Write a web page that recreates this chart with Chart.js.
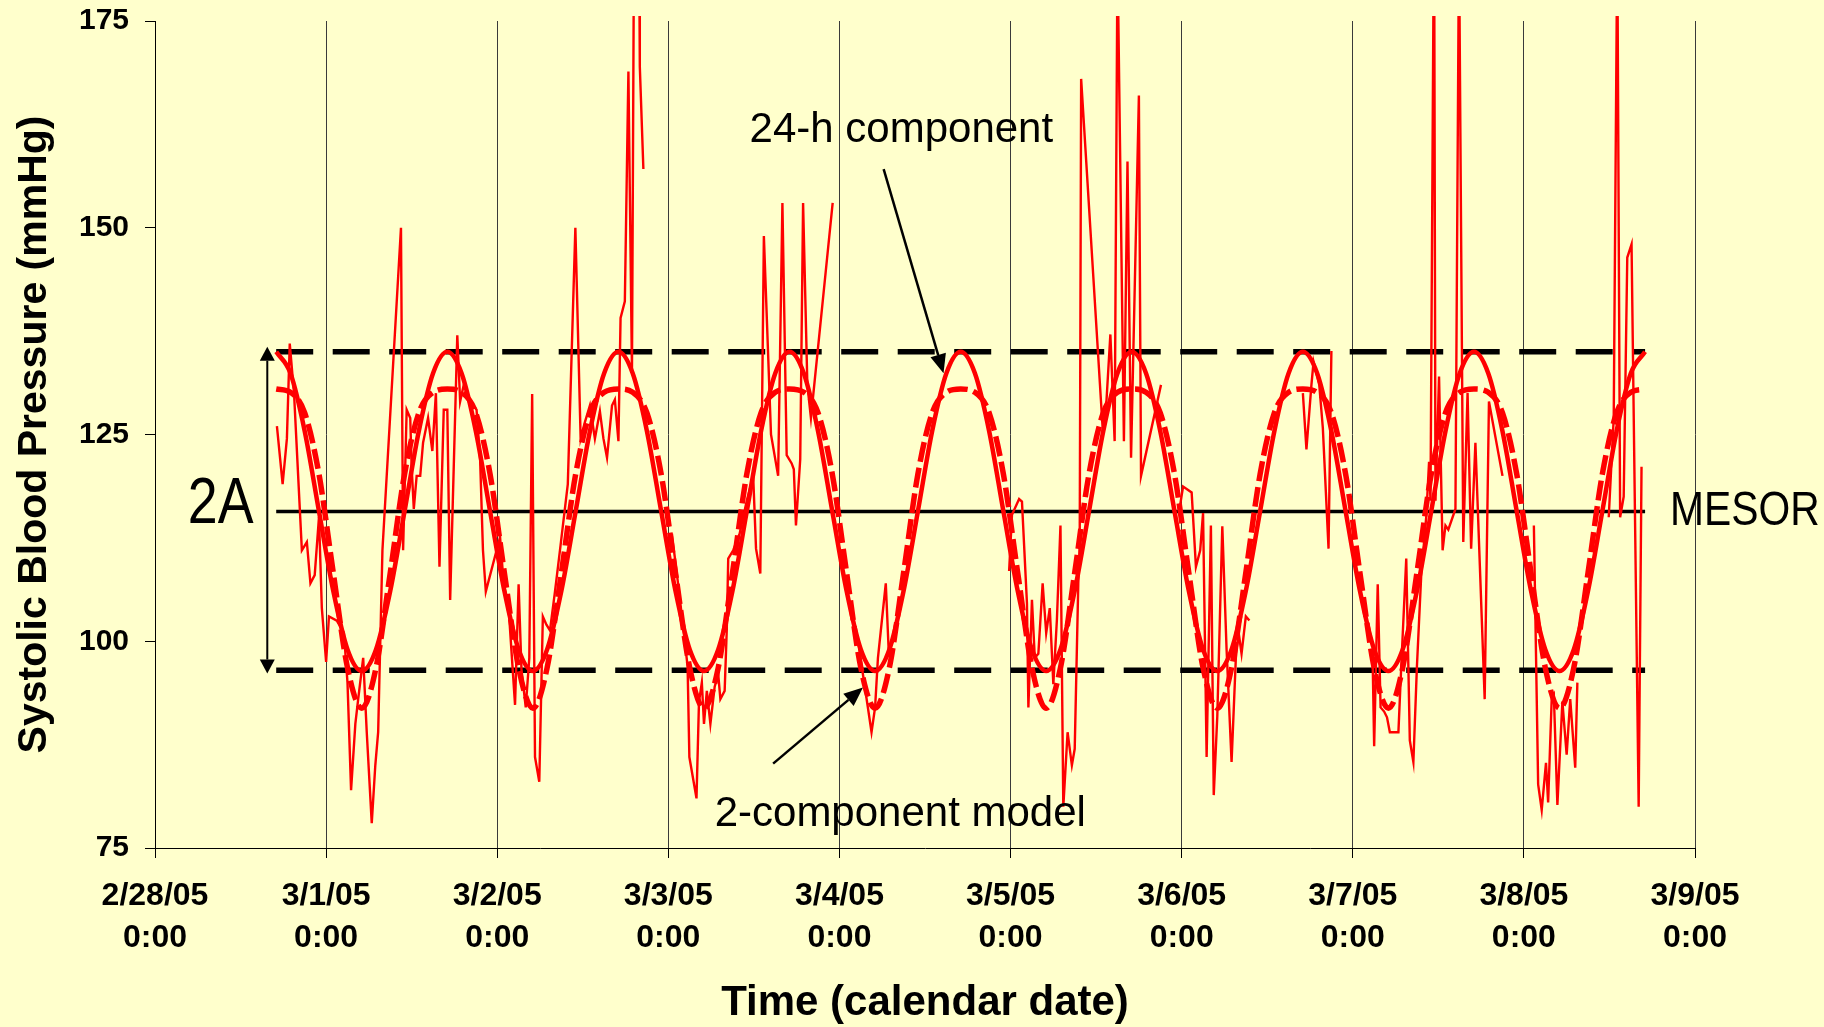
<!DOCTYPE html>
<html>
<head>
<meta charset="utf-8">
<title>Systolic blood pressure, 24-h and 2-component models</title>
<script src="https://cdn.jsdelivr.net/npm/chart.js@4.4.1/dist/chart.umd.min.js"></script>
<style>
  html, body { margin: 0; padding: 0; background: #FFFFCC; }
  canvas { display: block; background: #FFFFCC; }
</style>
</head>
<body>
<canvas id="bpChart" width="1824" height="1027"></canvas>
<script>
// axis labels (hours counted from 2/28/05 0:00)
const dayLabels = ['2/28/05', '3/1/05', '3/2/05', '3/3/05', '3/4/05', '3/5/05', '3/6/05', '3/7/05', '3/8/05', '3/9/05'];
const timeLabels = ['0:00', '0:00', '0:00', '0:00', '0:00', '0:00', '0:00', '0:00', '0:00', '0:00'];

// raw readings, null = break in the record
const rawHours = [
  17.1, 17.9, 18.5, 18.9, 19.5, 20.6, 21.3, 21.8, 22.4, 23.0, 23.4, 24.0, 24.4, 25.5, 26.5, 27.0, 27.5, 28.1, 28.5, 29.2,
  29.7, 30.4, 30.9, 31.3, 31.9, 34.5, 34.8, 35.3, 35.8, 36.0, 36.3, 36.7, 37.2, 37.6, 38.3, 38.9, 39.4, 39.9, 40.5, 41.0,
  41.4, 42.4, 42.8, 43.3, 44.2, 45.1, 45.6, 46.0, 46.4, 48.4, 48.9, 49.6, 50.5, 51.0, 51.4, 52.0, 52.5, 52.9, 53.3, 53.9,
  54.4, 54.9, 55.4, 56.1, 56.8, 57.9, 58.96, 59.7, 60.3, 61.0, 61.7, 62.4, 62.9, 63.4, 64.1, 64.5, 65.0, 65.3, 65.9, 66.4,
  66.9, 67.2, 67.9, 68.0, 68.5, 70,
  72.5, 73.5, 74.7, 74.95, 75.95, 76.3, 76.7, 77.0, 77.4, 77.9, 78.5, 79.0, 79.3, 79.9, 80.2, 80.4, 81.1, 82.0, 83.0, 83.9,
  84.3, 84.9, 85.4, 86.4, 87.4, 88.0, 88.6, 89.3, 89.6, 89.9, 90.5, 90.9, 91.5, 92.0, 95.05, 96.8,
  98.6, 99.9, 100.5, 101.0, 101.4, 102.5, 102.9, 103.5, 110,
  119.8, 120.2, 121.2, 121.6, 122.3, 122.5, 123.0, 123.4, 123.9, 124.5, 125.0, 125.5, 126.0, 126.5, 127.0, 127.4, 128.0, 128.6, 129.0, 129.5,
  129.7, 129.9, 132.9, 133.4, 134.0, 134.6, 135.0, 135.9, 136.4, 136.9, 138.0, 138.3, 141.1, 142.4,
  143.7, 144.2, 145.4, 146.0, 146.6, 147.0, 147.5, 148.1, 148.5, 149.0, 149.7, 150.3, 151.0, 151.6, 152.0, 152.4, 153.0, 153.5, 157,
  161.0, 161.5, 162.2, 162.5, 163.3, 163.8, 164.6, 165.0, 168,
  170.8, 171.0, 171.5, 171.9, 172.4, 172.8, 173.2, 174.4, 174.8, 175.5, 176.0, 176.5, 177.0, 177.6, 178.3, 178.7, 178.9, 179.4, 179.6, 180.1,
  180.6, 181.0, 181.4, 182.4, 182.9, 183.5, 184.1, 184.6, 185.2, 186.5, 187.1, 189.0, 191,
  193.4, 194.0, 194.5, 195.1, 195.4, 195.9, 196.2, 196.7, 197.4, 198.0, 198.5, 199.2, 199.5, 201,
  203.9, 204.6, 205.1, 205.5, 206.0, 206.5, 207.1, 208.1, 208.5
];
const rawSbp = [
  126, 119, 124.5, 136, 130, 111, 112, 107, 108, 115, 104, 97.5, 103, 102.5, 101, 95, 82, 90, 93, 98,
  89, 78, 85, 89, 111, 150, 111, 128, 127, 121, 116, 120, 120, 124, 127, 123, 130, 109, 128, 128,
  105, 137, 129, 131, 129, 128, 122, 111, 106, 112.6, 107, 104, 92.3, 106.9, 96.6, 92, 98, 129.9, 86, 83,
  103, 102, 101.3, 106, 111, 119, 150, 124.5, 126.5, 128.5, 124.5, 127.8, 124.5, 122.2, 128.5, 129.2, 124.2, 139.1, 141.1, 168.9,
  132.5, 188, 185, 169.5, 157.1, null,
  113, 106, 97, 86, 81, 92.7, 95, 90, 94, 90, 94.5, 96, 93, 94, 101.5, 110, 111, 113, 117, 120,
  111.2, 108.2, 149, 125, 120, 153, 122.5, 121.5, 120.8, 114, 122, 153, 131, 127, 153, null,
  100, 92.5, 89, 92, 98, 107, 99, 100, null,
  108.5, 115.3, 117.2, 116.9, 104.6, 92, 105, 98, 98.5, 107, 101, 104, 94.8, 102.6, 114, 80, 89, 85, 87, 107,
  112, 168, 126, 128.3, 137.1, 124.2, 183, 124.2, 158, 122.2, 166, 120, 131, null,
  116, 118.7, 118, 109, 111, 115.5, 86, 114, 81.4, 91, 113.9, 99, 85.4, 98, 101, 98.5, 103, 102.5, null,
  130, 123.2, 131, 133.8, 131, 125.8, 111.2, 135.1, null,
  97, 87.3, 106.9, 92, 91.5, 90.8, 89, 89, 97, 110, 88, 85.4, 97, 108, 115, 121.7, 117, 190, 117, 132,
  111, 114, 113.5, 116, 185, 112, 130, 111.2, 124, 93, 129, 120, null,
  114, 82.7, 79.6, 85.3, 80.5, 93, 93.5, 80.2, 92.7, 86.3, 93, 84.7, 95, null,
  115, 127, 185, 115, 117.5, 146.4, 148, 80, 121.1
];

// fitted curves, read every 2 h from 2/28 17:00 to 3/8 17:00
const modelHours = [
  17, 19, 21, 23, 25, 27, 29, 31, 33, 35, 37, 39,
  41, 43, 45, 47, 49, 51, 53, 55, 57, 59, 61, 63,
  65, 67, 69, 71, 73, 75, 77, 79, 81, 83, 85, 87,
  89, 91, 93, 95, 97, 99, 101, 103, 105, 107, 109, 111,
  113, 115, 117, 119, 121, 123, 125, 127, 129, 131, 133, 135,
  137, 139, 141, 143, 145, 147, 149, 151, 153, 155, 157, 159,
  161, 163, 165, 167, 169, 171, 173, 175, 177, 179, 181, 183,
  185, 187, 189, 191, 193, 195, 197, 199, 201, 203, 205, 207,
  209
];
const cosinor24 = [
  135.0, 132.4, 125.4, 115.7, 106.1, 99.0, 96.4, 99.0, 106.1, 115.7, 125.4, 132.4,
  135.0, 132.4, 125.4, 115.7, 106.1, 99.0, 96.4, 99.0, 106.1, 115.7, 125.4, 132.4,
  135.0, 132.4, 125.4, 115.7, 106.1, 99.0, 96.4, 99.0, 106.1, 115.7, 125.4, 132.4,
  135.0, 132.4, 125.4, 115.7, 106.1, 99.0, 96.4, 99.0, 106.1, 115.7, 125.4, 132.4,
  135.0, 132.4, 125.4, 115.7, 106.1, 99.0, 96.4, 99.0, 106.1, 115.7, 125.4, 132.4,
  135.0, 132.4, 125.4, 115.7, 106.1, 99.0, 96.4, 99.0, 106.1, 115.7, 125.4, 132.4,
  135.0, 132.4, 125.4, 115.7, 106.1, 99.0, 96.4, 99.0, 106.1, 115.7, 125.4, 132.4,
  135.0, 132.4, 125.4, 115.7, 106.1, 99.0, 96.4, 99.0, 106.1, 115.7, 125.4, 132.4,
  135.0
];
const twoComponent = [
  130.5, 130.1, 127.6, 120.2, 108.3, 96.8, 91.9, 96.8, 108.3, 120.2, 127.6, 130.1,
  130.5, 130.1, 127.6, 120.2, 108.3, 96.8, 91.9, 96.8, 108.3, 120.2, 127.6, 130.1,
  130.5, 130.1, 127.6, 120.2, 108.3, 96.8, 91.9, 96.8, 108.3, 120.2, 127.6, 130.1,
  130.5, 130.1, 127.6, 120.2, 108.3, 96.8, 91.9, 96.8, 108.3, 120.2, 127.6, 130.1,
  130.5, 130.1, 127.6, 120.2, 108.3, 96.8, 91.9, 96.8, 108.3, 120.2, 127.6, 130.1,
  130.5, 130.1, 127.6, 120.2, 108.3, 96.8, 91.9, 96.8, 108.3, 120.2, 127.6, 130.1,
  130.5, 130.1, 127.6, 120.2, 108.3, 96.8, 91.9, 96.8, 108.3, 120.2, 127.6, 130.1,
  130.5, 130.1, 127.6, 120.2, 108.3, 96.8, 91.9, 96.8, 108.3, 120.2, 127.6, 130.1,
  130.5
];

// MESOR and MESOR +/- amplitude
const levelHours = [17, 209];
const upperLevel = 135;
const mesorLevel = 115.7;
const lowerLevel = 96.5;

const FONT = '"Liberation Sans", Arial, Helvetica, sans-serif';

function pairs(xs, ys) {
  return xs.map((x, i) => ({ x: x, y: ys[i] }));
}
function flat(xs, v) {
  return xs.map(x => ({ x: x, y: v }));
}

function arrowHead(ctx, x0, y0, x1, y1, len, half) {
  const a = Math.atan2(y1 - y0, x1 - x0);
  const bx = x1 - len * Math.cos(a), by = y1 - len * Math.sin(a);
  ctx.beginPath();
  ctx.moveTo(x1, y1);
  ctx.lineTo(bx + half * Math.sin(a), by - half * Math.cos(a));
  ctx.lineTo(bx - half * Math.sin(a), by + half * Math.cos(a));
  ctx.closePath();
  ctx.fill();
  return { x: bx, y: by };
}

// annotation texts and arrows, placed in data units (hours, mmHg)
const notesPlugin = {
  id: 'notes',
  afterDatasetsDraw(chart) {
    const { ctx, scales: { x, y } } = chart;
    ctx.save();
    ctx.fillStyle = '#000';
    ctx.strokeStyle = '#000';
    ctx.textBaseline = 'alphabetic';
    ctx.textAlign = 'left';

    ctx.font = '42px ' + FONT;
    ctx.fillText('24-h component', x.getPixelForValue(83.4), y.getPixelForValue(160.4));
    ctx.fillText('2-component model', x.getPixelForValue(78.5), y.getPixelForValue(77.7));

    // condensed labels
    ctx.save();
    ctx.font = '64px ' + FONT;
    ctx.translate(x.getPixelForValue(4.6), y.getPixelForValue(114.3));
    ctx.scale(0.84, 1);
    ctx.fillText('2A', 0, 0);
    ctx.restore();

    ctx.save();
    ctx.font = '48px ' + FONT;
    ctx.translate(x.getPixelForValue(212.5), y.getPixelForValue(114.0));
    ctx.scale(0.85, 1);
    ctx.fillText('MESOR', 0, 0);
    ctx.restore();

    // pointer arrows
    ctx.lineWidth = 2.5;
    const arrows = [
      [102.2, 157.1, 110.6, 132.4],
      [86.7, 85.2, 99.3, 94.4]
    ];
    arrows.forEach(([h0, v0, h1, v1]) => {
      const x0 = x.getPixelForValue(h0), y0 = y.getPixelForValue(v0);
      const x1 = x.getPixelForValue(h1), y1 = y.getPixelForValue(v1);
      const base = arrowHead(ctx, x0, y0, x1, y1, 19, 8);
      ctx.beginPath();
      ctx.moveTo(x0, y0);
      ctx.lineTo(base.x, base.y);
      ctx.stroke();
    });

    // 2A double arrow
    const ax = x.getPixelForValue(15.75);
    const top = y.getPixelForValue(135.6), bot = y.getPixelForValue(96.1);
    const b1 = arrowHead(ctx, ax, bot, ax, top, 14, 7.5);
    const b2 = arrowHead(ctx, ax, top, ax, bot, 14, 7.5);
    ctx.lineWidth = 2;
    ctx.beginPath();
    ctx.moveTo(ax, b1.y);
    ctx.lineTo(ax, b2.y);
    ctx.stroke();
    ctx.restore();
  }
};

new Chart(document.getElementById('bpChart'), {
  type: 'line',
  data: {
    datasets: [
      {
        label: 'Systolic BP',
        data: pairs(rawHours, rawSbp),
        borderColor: '#FF0000',
        borderWidth: 2.4,
        tension: 0,
        spanGaps: false,
        clip: { left: 0, top: 5, right: 0, bottom: 0 }
      },
      {
        label: '24-h component',
        data: pairs(modelHours, cosinor24),
        borderColor: '#FF0000',
        borderWidth: 4.5,
        cubicInterpolationMode: 'monotone'
      },
      {
        label: '2-component model',
        data: pairs(modelHours, twoComponent),
        borderColor: '#FF0000',
        borderWidth: 5.5,
        borderDash: [20, 6],
        borderCapStyle: 'butt',
        cubicInterpolationMode: 'monotone'
      },
      {
        label: 'MESOR',
        data: flat(levelHours, mesorLevel),
        borderColor: '#000',
        borderWidth: 3.5
      },
      {
        label: 'MESOR + A',
        data: flat(levelHours, upperLevel),
        borderColor: '#000',
        borderWidth: 5.5,
        borderDash: [37, 19.5],
        borderCapStyle: 'butt'
      },
      {
        label: 'MESOR - A',
        data: flat(levelHours, lowerLevel),
        borderColor: '#000',
        borderWidth: 5.5,
        borderDash: [37, 19.5],
        borderCapStyle: 'butt'
      }
    ]
  },
  options: {
    responsive: false,
    animation: false,
    devicePixelRatio: 1,
    layout: { padding: { left: 0, right: 129, top: 21, bottom: 0 } },
    elements: { point: { radius: 0, hoverRadius: 0 } },
    plugins: { legend: { display: false }, tooltip: { enabled: false } },
    scales: {
      x: {
        type: 'linear',
        min: 0,
        max: 216,
        afterFit(scale) { scale.height = 179; },
        ticks: {
          stepSize: 24,
          autoSkip: false,
          maxRotation: 0,
          padding: 17,
          color: '#000',
          font: { family: FONT, size: 32, weight: 'bold', lineHeight: 1.3125 },
          callback: (v) => {
            const i = Math.round(v / 24);
            return [dayLabels[i], timeLabels[i]];
          }
        },
        grid: { color: '#3a3a3a', lineWidth: 1, tickLength: 10, tickColor: '#000' },
        border: { color: '#000', width: 1 },
        title: {
          display: true,
          text: 'Time (calendar date)',
          color: '#000',
          padding: { top: 0, bottom: 0 },
          font: { family: FONT, size: 42, weight: 'bold', lineHeight: 1.1 }
        }
      },
      y: {
        min: 75,
        max: 175,
        afterFit(scale) {
          scale.width = 155;
          scale.paddingTop = 0;
          scale.paddingBottom = 0;
        },
        ticks: {
          stepSize: 25,
          padding: 16,
          color: '#000',
          font: { family: FONT, size: 30, weight: 'bold' }
        },
        grid: { drawOnChartArea: false, tickLength: 10, color: '#000', tickColor: '#000' },
        border: { color: '#000', width: 1 },
        title: {
          display: true,
          text: 'Systolic Blood Pressure (mmHg)',
          color: '#000',
          padding: { top: 10, bottom: 0 },
          font: { family: FONT, size: 41, weight: 'bold', lineHeight: 1.2 }
        }
      }
    }
  },
  plugins: [notesPlugin]
});
</script>
</body>
</html>
